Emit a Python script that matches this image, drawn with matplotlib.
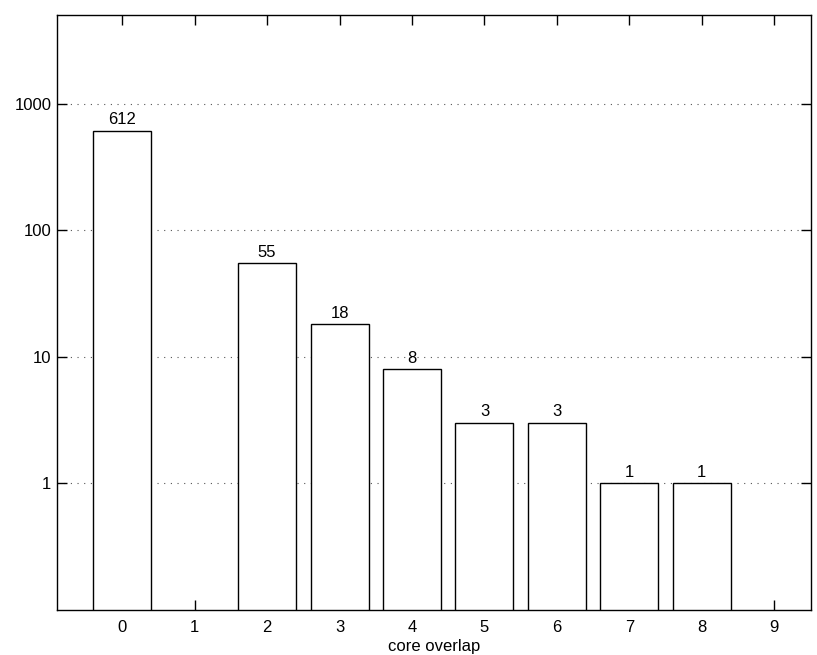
import matplotlib
matplotlib.use("Agg")
import matplotlib.pyplot as plt
from matplotlib.ticker import FixedLocator, NullLocator

plt.rcParams['font.family'] = ['Liberation Sans', 'DejaVu Sans']

categories = [0, 1, 2, 3, 4, 5, 6, 7, 8, 9]
counts = [612, 0, 55, 18, 8, 3, 3, 1, 1, 0]
ytick_values = [1, 10, 100, 1000]
ytick_labels = ['1', '10', '100', '1000']

FS = 12
BASE = 0.1

fig = plt.figure(figsize=(8.17, 6.55), dpi=100)
ax = fig.add_axes([57/817, 1 - 610/655, (810.5 - 57)/817, (610 - 15)/655])

ax.set_yscale('log')
xs = [c for c, v in zip(categories, counts) if v > 0]
vs = [v for v in counts if v > 0]
ax.bar(xs, [v - BASE for v in vs], width=0.8, bottom=BASE, facecolor='white',
       edgecolor='black', linewidth=1.0, zorder=3)
for x, v in zip(xs, vs):
    ax.annotate(str(v), (x, v), xytext=(0, 2.5), textcoords='offset points',
                ha='center', va='bottom', fontsize=FS, zorder=4)

ax.set_xlim(-0.9, 9.5)
ax.set_ylim(BASE, 5000)
ax.set_xticks(categories)
ax.set_xticklabels([str(c) for c in categories])
ax.yaxis.set_major_locator(FixedLocator(ytick_values))
ax.set_yticklabels(ytick_labels)
ax.yaxis.set_minor_locator(NullLocator())
ax.tick_params(axis='both', which='both', direction='in', top=True, right=True,
               length=7, width=1, labelsize=FS)
ax.tick_params(axis='y', pad=4)
ax.tick_params(axis='x', pad=7)
ax.grid(True, axis='y', linestyle=(0, (1, 5)), color='#555555', linewidth=0.8, zorder=0)
for s in ax.spines.values():
    s.set_linewidth(1.0)
ax.set_xlabel('core overlap', fontsize=FS, labelpad=3)

fig.savefig('out.png', dpi=100)
